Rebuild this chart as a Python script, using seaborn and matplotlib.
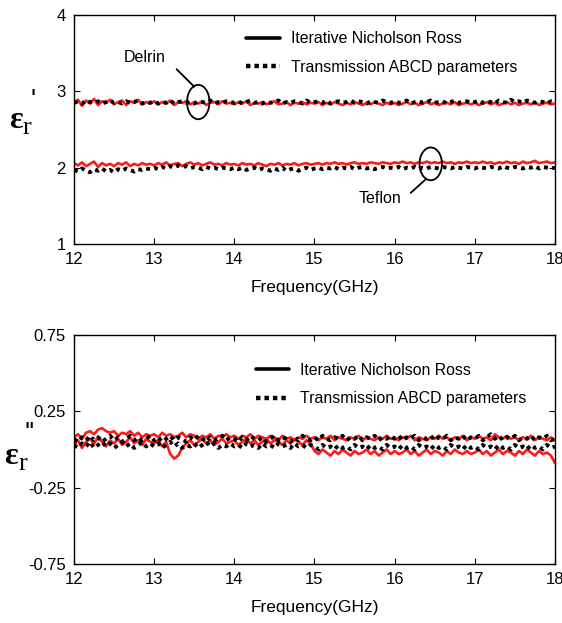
import numpy as np
import pandas as pd
import matplotlib
matplotlib.use("Agg")
import matplotlib.pyplot as plt
from matplotlib.patches import Ellipse
from matplotlib.lines import Line2D
import seaborn as sns

# ---------------- data ----------------
freq = np.round(np.linspace(12.0, 18.0, 121), 3)  # GHz sweep, 0.05 GHz step

delrin_inr_re = [
    2.83, 2.89, 2.81, 2.88, 2.84, 2.90, 2.82, 2.87, 2.85, 2.89, 2.83, 2.86, 2.88, 2.82, 2.87, 2.85, 2.89, 2.83, 2.86, 2.84,
    2.87, 2.83, 2.86, 2.84, 2.88, 2.82, 2.86, 2.85, 2.87, 2.83, 2.86, 2.84, 2.87, 2.82, 2.85, 2.86, 2.83, 2.87, 2.84, 2.85,
    2.83, 2.86, 2.84, 2.87, 2.82, 2.85, 2.84, 2.86, 2.83, 2.85, 2.87, 2.83, 2.84, 2.86, 2.82, 2.85, 2.84, 2.86, 2.83, 2.85,
    2.84, 2.86, 2.82, 2.85, 2.83, 2.86, 2.84, 2.82, 2.85, 2.83, 2.86, 2.84, 2.82, 2.85, 2.83, 2.86, 2.84, 2.82, 2.85, 2.83,
    2.85, 2.82, 2.84, 2.86, 2.83, 2.85, 2.82, 2.84, 2.86, 2.83, 2.85, 2.82, 2.84, 2.85, 2.83, 2.86, 2.82, 2.84, 2.85, 2.83,
    2.85, 2.82, 2.84, 2.86, 2.83, 2.85, 2.82, 2.84, 2.86, 2.83, 2.85, 2.82, 2.84, 2.85, 2.83, 2.86, 2.82, 2.84, 2.85, 2.83, 2.84]
delrin_abcd_re = [
    2.85, 2.87, 2.84, 2.88, 2.86, 2.85, 2.87, 2.84, 2.86, 2.88, 2.85, 2.86, 2.84, 2.87, 2.85, 2.86, 2.88, 2.84, 2.86, 2.85,
    2.87, 2.84, 2.86, 2.85, 2.88, 2.84, 2.86, 2.87, 2.85, 2.86, 2.84, 2.87, 2.86, 2.85, 2.88, 2.84, 2.86, 2.85, 2.87, 2.86,
    2.85, 2.87, 2.84, 2.86, 2.88, 2.85, 2.86, 2.84, 2.87, 2.85, 2.86, 2.88, 2.84, 2.86, 2.85, 2.87, 2.86, 2.84, 2.88, 2.85,
    2.86, 2.87, 2.85, 2.88, 2.84, 2.86, 2.87, 2.85, 2.86, 2.88, 2.85, 2.87, 2.86, 2.84, 2.87, 2.86, 2.85, 2.88, 2.86, 2.85,
    2.87, 2.85, 2.86, 2.88, 2.84, 2.86, 2.87, 2.85, 2.86, 2.88, 2.85, 2.86, 2.87, 2.84, 2.86, 2.88, 2.85, 2.86, 2.87, 2.85,
    2.86, 2.88, 2.85, 2.87, 2.86, 2.84, 2.88, 2.86, 2.85, 2.89, 2.86, 2.87, 2.85, 2.88, 2.86, 2.85, 2.87, 2.86, 2.84, 2.87, 2.86]
teflon_inr_re = [
    2.06, 2.03, 2.07, 2.02, 2.05, 2.08, 2.01, 2.06, 2.03, 2.05, 2.02, 2.06, 2.04, 2.07, 2.02, 2.05, 2.03, 2.06, 2.04, 2.05,
    2.03, 2.06, 2.04, 2.07, 2.03, 2.05, 2.06, 2.02, 2.05, 2.07, 2.04, 2.06, 2.03, 2.05, 2.07, 2.04, 2.05, 2.03, 2.06, 2.04,
    2.05, 2.03, 2.06, 2.04, 2.05, 2.03, 2.06, 2.04, 2.02, 2.05, 2.04, 2.06, 2.03, 2.05, 2.04, 2.06, 2.03, 2.05, 2.06, 2.04,
    2.05, 2.06, 2.04, 2.06, 2.05, 2.07, 2.05, 2.06, 2.04, 2.06, 2.07, 2.05, 2.06, 2.05, 2.07, 2.06, 2.05, 2.07, 2.06, 2.05,
    2.07, 2.06, 2.08, 2.06, 2.07, 2.05, 2.07, 2.06, 2.08, 2.06, 2.07, 2.06, 2.08, 2.06, 2.07, 2.05, 2.07, 2.06, 2.08, 2.06,
    2.07, 2.06, 2.08, 2.06, 2.07, 2.05, 2.07, 2.06, 2.08, 2.06, 2.07, 2.05, 2.08, 2.06, 2.07, 2.09, 2.06, 2.07, 2.08, 2.06, 2.07]
teflon_abcd_re = [
    1.97, 1.95, 1.99, 1.96, 1.94, 1.98, 1.96, 1.99, 1.95, 1.97, 1.94, 1.98, 1.96, 1.99, 1.97, 1.95, 1.98, 1.97, 1.99, 1.98,
    2.00, 1.98, 2.01, 1.99, 2.02, 2.00, 2.03, 2.01, 2.02, 1.99, 2.01, 2.00, 1.98, 2.01, 1.99, 2.00, 1.98, 2.00, 1.99, 1.98,
    2.00, 1.98, 2.00, 1.97, 1.99, 2.00, 1.97, 1.99, 1.98, 1.96, 1.99, 1.97, 2.00, 1.96, 1.98, 1.99, 1.96, 1.98, 2.00, 1.97,
    1.99, 2.00, 1.98, 2.00, 1.99, 2.01, 1.98, 2.00, 1.99, 2.01, 1.98, 2.00, 2.01, 1.99, 2.00, 1.98, 2.00, 2.01, 1.99, 2.00,
    1.99, 2.01, 1.98, 2.00, 1.99, 2.01, 1.98, 2.00, 1.99, 2.01, 2.00, 1.99, 2.01, 2.00, 1.99, 2.01, 2.00, 1.99, 2.01, 2.00,
    1.99, 2.01, 2.00, 1.99, 2.01, 2.00, 1.99, 2.02, 2.00, 1.99, 2.01, 2.00, 1.99, 2.01, 2.00, 2.02, 1.99, 2.01, 2.00, 1.99, 2.00]

delrin_inr_im = [
    0.08, 0.10, 0.07, 0.11, 0.12, 0.10, 0.13, 0.14, 0.12, 0.11, 0.12, 0.09, 0.11, 0.10, 0.12, 0.09, 0.11, 0.08, 0.10, 0.09,
    0.10, 0.08, 0.11, 0.09, 0.10, 0.08, 0.09, 0.11, 0.08, 0.10, 0.09, 0.07, 0.09, 0.08, 0.10, 0.07, 0.09, 0.08, 0.10, 0.08,
    0.09, 0.07, 0.09, 0.08, 0.10, 0.07, 0.09, 0.08, 0.07, 0.09, 0.08, 0.06, 0.09, 0.07, 0.08, 0.06, 0.08, 0.07, 0.09, 0.07,
    0.08, 0.06, 0.08, 0.07, 0.09, 0.06, 0.08, 0.07, 0.06, 0.08, 0.07, 0.09, 0.06, 0.08, 0.07, 0.06, 0.08, 0.07, 0.09, 0.07,
    0.08, 0.06, 0.08, 0.07, 0.09, 0.06, 0.08, 0.07, 0.06, 0.08, 0.07, 0.09, 0.07, 0.08, 0.06, 0.08, 0.07, 0.09, 0.06, 0.08,
    0.07, 0.09, 0.07, 0.08, 0.06, 0.10, 0.08, 0.07, 0.09, 0.07, 0.08, 0.06, 0.08, 0.07, 0.09, 0.06, 0.08, 0.07, 0.06, 0.08, 0.06]
teflon_inr_im = [
    0.03, 0.06, 0.01, 0.05, 0.07, 0.04, 0.08, 0.05, 0.02, 0.06, 0.04, 0.07, 0.03, 0.05, 0.08, 0.04, 0.06, 0.03, 0.07, 0.05,
    0.04, 0.06, 0.02, 0.05, -0.03, -0.06, -0.04, 0.01, 0.04, 0.06, 0.03, 0.05, 0.07, 0.04, 0.06, 0.03, 0.05, 0.07, 0.04, 0.05,
    0.06, 0.03, 0.05, 0.07, 0.04, 0.06, 0.03, 0.05, 0.07, 0.04, 0.06, 0.05, 0.03, 0.06, 0.04, 0.07, 0.05, 0.03, 0.06, 0.04,
    -0.01, -0.03, 0.00, -0.02, -0.04, -0.01, -0.03, 0.00, -0.02, -0.04, -0.01, -0.03, -0.02, 0.00, -0.03, -0.01, -0.04, -0.02, 0.00, -0.03,
    -0.01, -0.03, -0.02, 0.00, -0.03, -0.01, -0.04, -0.02, 0.00, -0.03, -0.01, -0.02, -0.04, -0.01, -0.03, 0.00, -0.02, -0.03, -0.01, -0.03,
    -0.02, 0.00, -0.03, -0.01, -0.04, -0.02, 0.00, -0.03, -0.01, -0.02, -0.04, -0.01, -0.03, 0.00, -0.02, -0.04, -0.01, -0.03, -0.02, -0.04, -0.09]
delrin_abcd_im = [
    0.07, 0.05, 0.08, 0.06, 0.09, 0.06, 0.08, 0.05, 0.07, 0.09, 0.06, 0.08, 0.05, 0.07, 0.09, 0.06, 0.08, 0.06, 0.07, 0.09,
    0.06, 0.08, 0.05, 0.07, 0.09, 0.06, 0.08, 0.07, 0.05, 0.08, 0.06, 0.09, 0.07, 0.05, 0.08, 0.06, 0.07, 0.09, 0.06, 0.08,
    0.07, 0.05, 0.08, 0.06, 0.09, 0.07, 0.06, 0.08, 0.05, 0.07, 0.09, 0.06, 0.08, 0.07, 0.05, 0.08, 0.06, 0.09, 0.07, 0.06,
    0.08, 0.06, 0.09, 0.07, 0.06, 0.08, 0.07, 0.09, 0.06, 0.08, 0.07, 0.09, 0.06, 0.08, 0.07, 0.09, 0.06, 0.08, 0.07, 0.09,
    0.07, 0.09, 0.06, 0.08, 0.07, 0.09, 0.06, 0.08, 0.07, 0.09, 0.06, 0.08, 0.07, 0.09, 0.06, 0.08, 0.07, 0.09, 0.06, 0.08,
    0.07, 0.09, 0.06, 0.08, 0.10, 0.07, 0.09, 0.06, 0.08, 0.07, 0.09, 0.06, 0.08, 0.07, 0.09, 0.06, 0.08, 0.07, 0.09, 0.06, 0.07]
teflon_abcd_im = [
    0.03, 0.01, 0.04, 0.02, 0.05, 0.01, 0.03, 0.05, 0.02, 0.04, 0.01, 0.03, 0.05, 0.02, 0.04, 0.01, 0.03, 0.05, 0.02, 0.04,
    0.02, 0.04, 0.01, 0.03, 0.05, 0.02, 0.04, 0.01, 0.03, 0.02, 0.04, 0.01, 0.03, 0.05, 0.02, 0.04, 0.01, 0.03, 0.02, 0.04,
    0.02, 0.03, 0.01, 0.04, 0.02, 0.03, 0.01, 0.04, 0.02, 0.03, 0.01, 0.04, 0.02, 0.03, 0.01, 0.04, 0.02, 0.03, 0.01, 0.03,
    0.02, 0.00, 0.03, 0.01, 0.02, 0.00, 0.03, 0.01, 0.02, 0.00, 0.03, 0.01, 0.02, 0.00, 0.03, 0.01, 0.02, 0.00, 0.03, 0.01,
    0.02, 0.00, 0.03, 0.01, 0.02, 0.00, 0.03, 0.01, 0.02, 0.00, 0.03, 0.01, 0.02, 0.00, 0.03, 0.01, 0.02, 0.00, 0.03, 0.01,
    0.02, 0.00, 0.03, 0.01, 0.02, 0.00, 0.03, 0.01, 0.02, 0.00, 0.03, 0.01, 0.02, 0.00, 0.03, 0.01, 0.02, 0.00, 0.03, 0.01, 0.02]

x_ticks = [12, 13, 14, 15, 16, 17, 18]
y_ticks_top = [1, 2, 3, 4]
y_ticks_bot = [-0.75, -0.25, 0.25, 0.75]
y_ticklabels_bot = ["-0.75", "-0.25", "0.25", "0.75"]
legend_labels = ["Iterative Nicholson Ross", "Transmission ABCD parameters"]
xlabel = "Frequency(GHz)"

# ---------------- style ----------------
sns.set_theme(style="ticks")
FONT = ["Liberation Sans", "DejaVu Sans"]
SERIF = ["Liberation Serif", "DejaVu Serif"]
plt.rcParams["font.family"] = FONT
plt.rcParams["axes.edgecolor"] = "black"
plt.rcParams["axes.linewidth"] = 1.0
plt.rcParams["text.color"] = "black"

fig = plt.figure(figsize=(5.62, 6.23), dpi=100)
ax1 = fig.add_axes([0.1317, 0.6083, 0.8558, 0.3676])
ax2 = fig.add_axes([0.1317, 0.0947, 0.8558, 0.3676])


def draw_series(ax, red_list, black_list):
    for vals in red_list:
        sns.lineplot(x=freq, y=vals, ax=ax, color="#ff1a1a", lw=1.9, estimator=None)
    for vals in black_list:
        sns.lineplot(x=freq, y=vals, ax=ax, color="black", lw=2.8, ls=(0, (1.0, 1.1)), estimator=None)


draw_series(ax1, [delrin_inr_re, teflon_inr_re], [delrin_abcd_re, teflon_abcd_re])
draw_series(ax2, [delrin_inr_im, teflon_inr_im], [delrin_abcd_im, teflon_abcd_im])

for ax in (ax1, ax2):
    ax.set_xlim(12, 18)
    ax.set_xticks(x_ticks)
    ax.set_xticklabels([str(t) for t in x_ticks])
    ax.tick_params(direction="in", top=True, right=True, length=4, width=0.8,
                   labelsize=12, colors="black", pad=6)
    ax.set_xlabel(xlabel, fontsize=12.5, labelpad=9, color="black")
    ax.set_ylabel("")
    for s in ax.spines.values():
        s.set_color("black")
        s.set_linewidth(1.0)

ax1.set_ylim(1, 4)
ax1.set_yticks(y_ticks_top)
ax1.set_yticklabels([str(t) for t in y_ticks_top])
ax2.set_ylim(-0.75, 0.75)
ax2.set_yticks(y_ticks_bot)
ax2.set_yticklabels(y_ticklabels_bot)


def px(x, y):
    return x / 562.0, 1.0 - y / 623.0


# y labels (epsilon_r' and epsilon_r'')
for (ex, ey), (rx, ry), (qx, qy), prime in (
        ((9, 120), (23, 128), (30, 100), "'"),
        ((4, 457), (19, 464), (25, 433), "''")):
    fig.text(*px(ex, ey), "ε", fontsize=23, family=SERIF, ha="left", va="center",
             color="black", weight="bold")
    fig.text(*px(rx, ry), "r", fontsize=19, family=SERIF, ha="left", va="center",
             color="black")
    fig.text(*px(qx, qy), prime, fontsize=19, family=FONT, ha="left", va="center",
             color="black")

# legends
handles = [Line2D([], [], color="black", lw=2.6, ls="-"),
           Line2D([], [], color="black", lw=3.2, ls=(0, (1.0, 0.9)))]
for ax, anchor in ((ax1, (0.352, 0.942)), (ax2, (0.372, 0.893))):
    ax.legend(handles, legend_labels, loc="upper left", bbox_to_anchor=anchor,
              frameon=False, fontsize=11.4, handlelength=2.1, handletextpad=0.7,
              labelspacing=0.85, borderpad=0.2, borderaxespad=0.0)

# annotations (top panel)
ax1.add_patch(Ellipse((13.55, 2.86), 0.28, 0.45, fill=False, ec="black", lw=1.3, zorder=5))
ax1.add_patch(Ellipse((16.45, 2.05), 0.28, 0.43, fill=False, ec="black", lw=1.3, zorder=5))
ax1.plot([13.28, 13.50], [3.29, 3.06], color="black", lw=1.3)
ax1.plot([16.38, 16.20], [1.84, 1.67], color="black", lw=1.3)
ax1.text(12.88, 3.45, "Delrin", fontsize=11.5, ha="center", va="center", color="black")
ax1.text(15.82, 1.59, "Teflon", fontsize=11.5, ha="center", va="center", color="black")

fig.savefig("out.png", dpi=100)
